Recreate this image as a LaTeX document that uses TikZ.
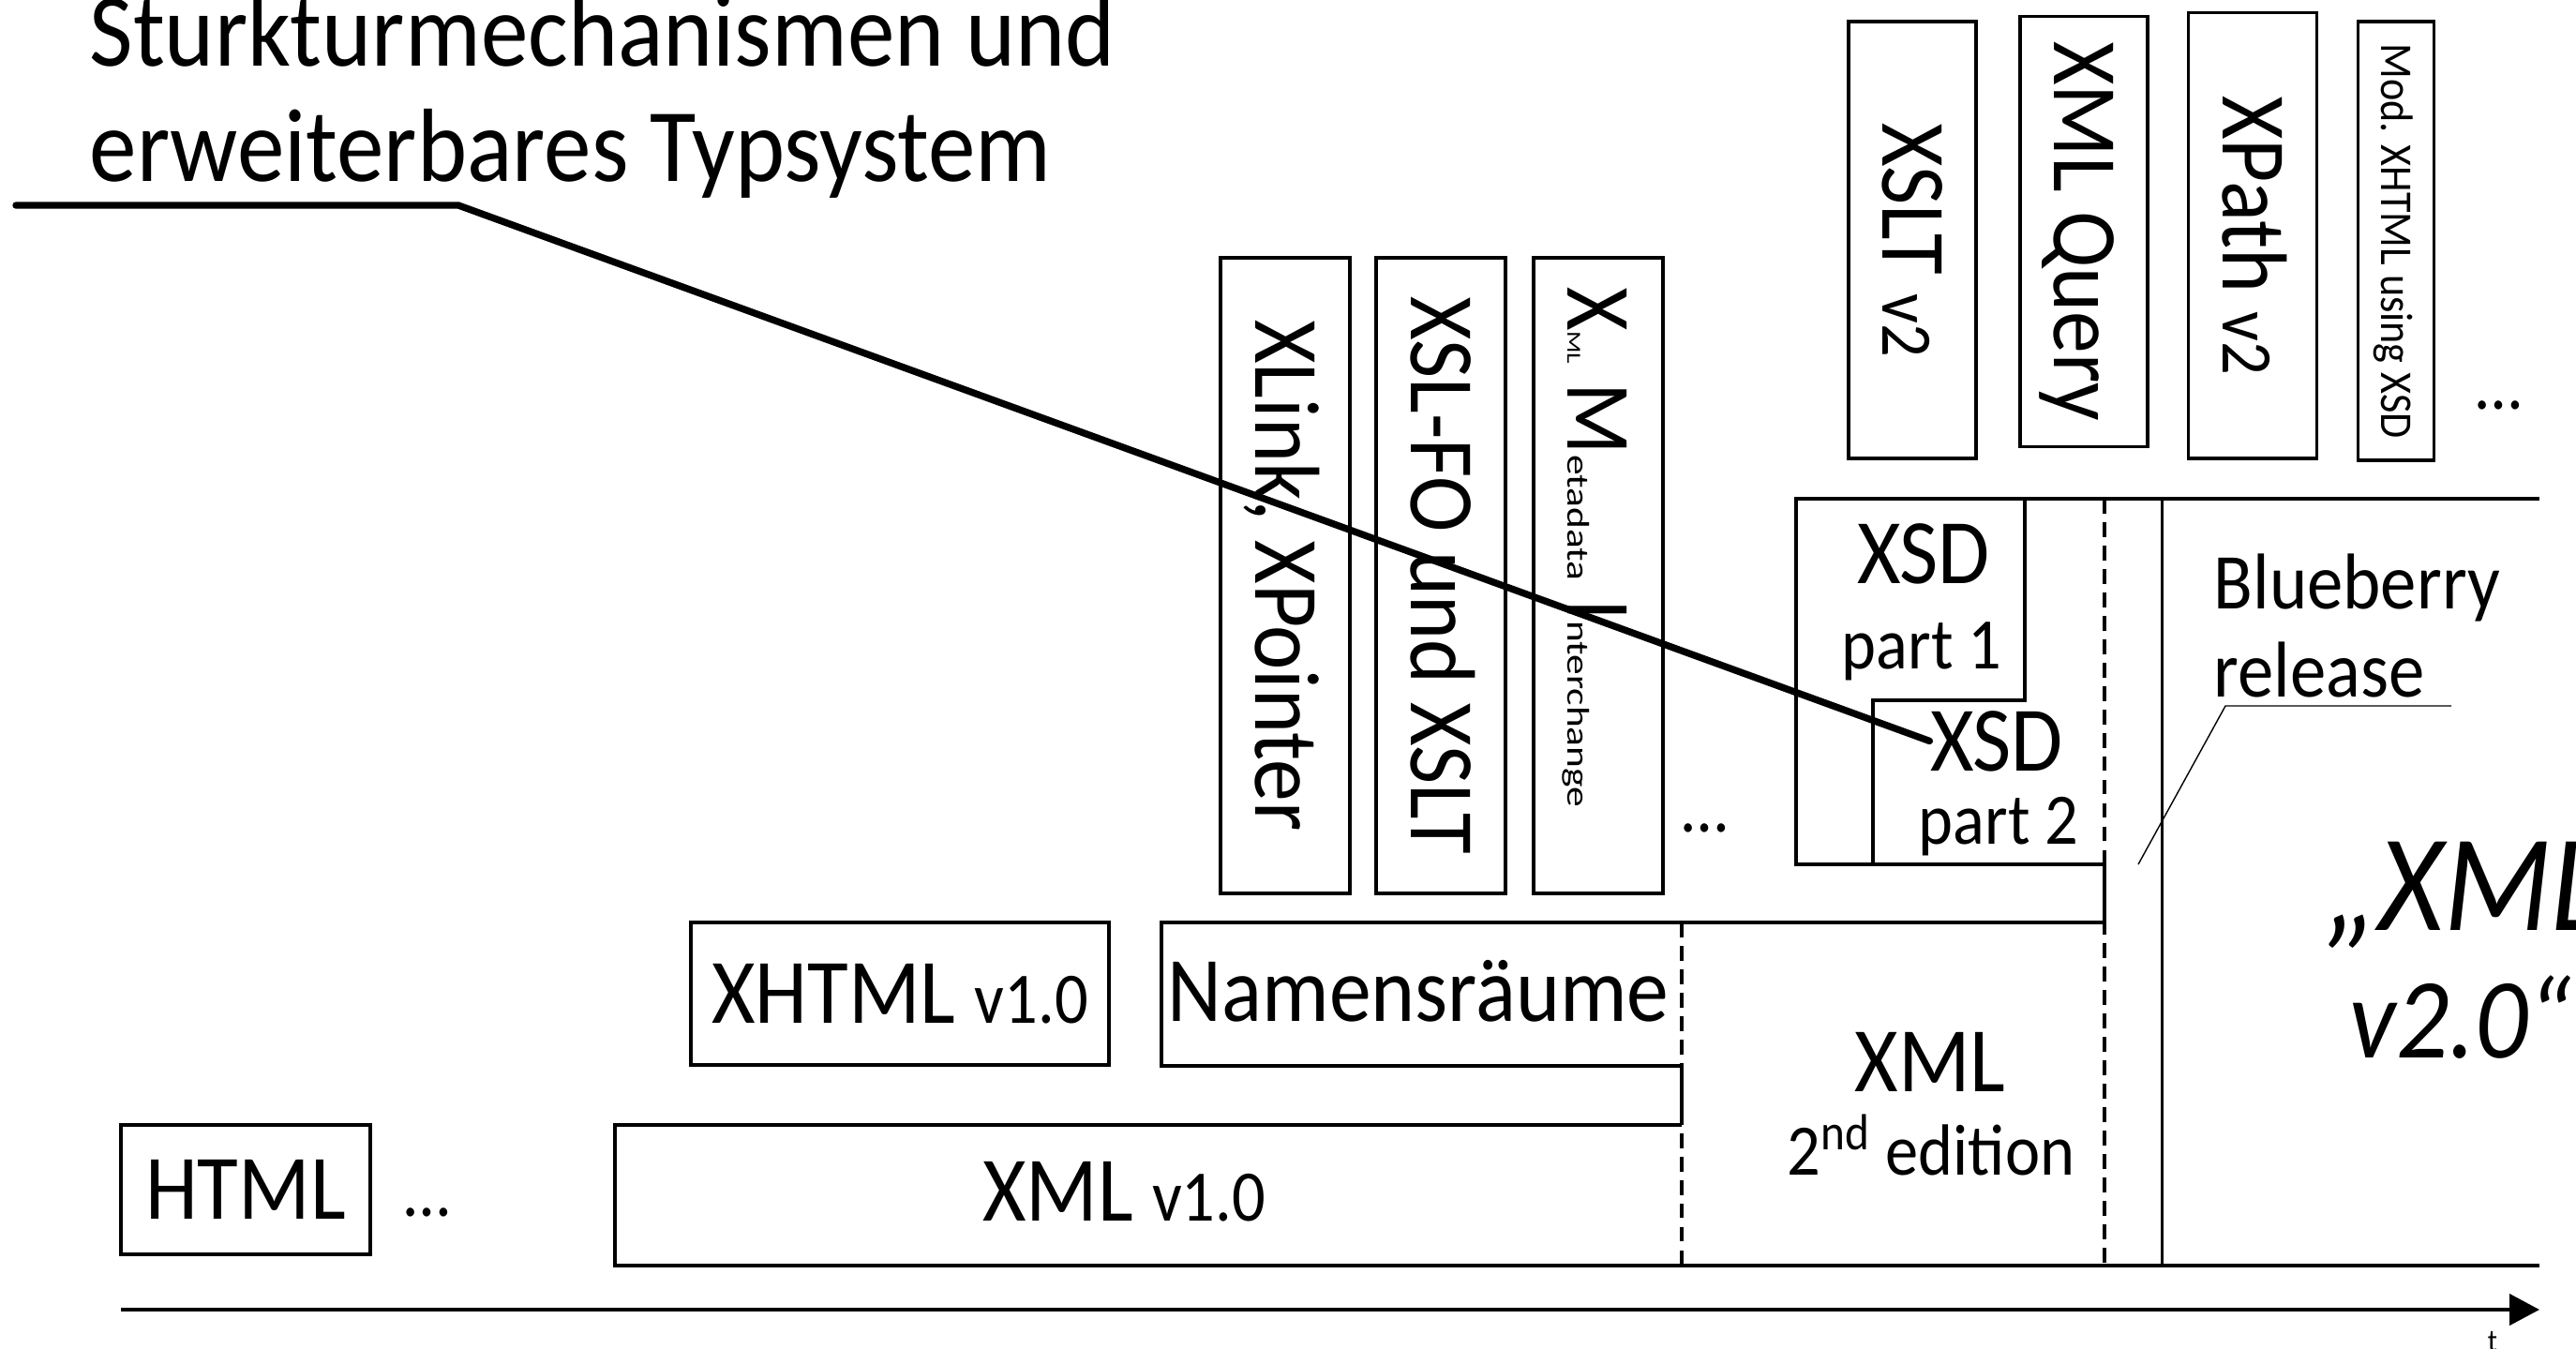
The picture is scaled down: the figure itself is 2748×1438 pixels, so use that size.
\documentclass[tikz,border=0pt]{standalone}
\usepackage{fontspec}
\setmainfont[FakeStretch=0.91]{Carlito}
\newfontfamily\widefont[FakeStretch=1.3]{Carlito}
\usetikzlibrary{arrows.meta}

\newcommand{\ver}[1]{{\fontsize{22}{24}\selectfont #1}}

\begin{document}
\begin{tikzpicture}[x=0.01cm, y=-0.01cm, >={Triangle[length=9.1pt,width=9.4pt]},
    font=\fontsize{28}{30}\selectfont, inner sep=0pt]
  \tikzstyle{box}=[draw, line width=1.05pt, text height=17.7pt, text depth=0pt]
  \tikzstyle{vert}=[box, rotate=-90]
  \tikzstyle{minor}=[font=\fontsize{22}{24}\selectfont]
  \tikzstyle{cutline}=[line width=0.95pt, dash pattern=on 4.5pt off 2.6pt]
  \useasboundingbox (0,0) rectangle (2748,1438);

  % title
  \node[anchor=base west, font=\fontsize{31.6}{35}\selectfont] (titlea) at (95,70) {Sturkturmechanismen und};
  \node[anchor=base west, font=\fontsize{31.6}{35}\selectfont] (titleb) at (95,193) {erweiterbares Typsystem};

  % bottom row
  \node[box, minimum width=2.66cm, minimum height=1.38cm] (html) at (262,1269) {HTML};
  \node[anchor=base, minor] (dotsa) at (456,1297) {…};
  \node[anchor=base] (xmlone) at (1199,1302) {XML \ver{v1.0}};
  \draw[box] (1794,1200) -- (656,1200) -- (656,1350) -- (2709,1350);

  \node[box, minimum width=4.46cm, minimum height=1.52cm] (xhtml) at (960,1060) {XHTML \ver{v1.0}};
  \node[anchor=base] (names) at (1513,1089) {Namensräume};
  \draw[box] (1794,1137) -- (1239,1137) -- (1239,984) -- (2245,984);

  \node[anchor=base] (xmltwo) at (2059,1164) {XML};
  \node[anchor=base, minor] (edition) at (2060,1253) {2\textsuperscript{nd} edition};
  \draw[cutline] (1794,984) -- (1794,1350);
  \draw[box] (1794,1137) -- (1794,1200);

  % standing boxes
  \node[vert, minimum width=6.78cm, minimum height=1.38cm] (xlink) at (1371,614) {XLink, XPointer};
  \node[vert, minimum width=6.78cm, minimum height=1.38cm] (xslfo) at (1537,614) {XSL-FO und XSLT};
  \node[vert, minimum width=6.78cm, minimum height=1.38cm] (xmlmi) at (1705,614) {};
  \node[rotate=-90, anchor=base west] (mitext) at (1672,306)
    {X{\widefont\fontsize{6}{7}\selectfont ML} M{\widefont\fontsize{9.5}{11}\selectfont etadata} I{\widefont\fontsize{9.5}{11}\selectfont nterchange}};
  \node[anchor=base, minor] (dotsb) at (1819,887) {…};

  % XSD
  \draw[box] (2245,922) -- (1916,922) -- (1916,532) -- (2709,532);
  \draw[box] (2160,532) -- (2160,747) -- (1998,747) -- (1998,922);
  \node[anchor=base] (xsda) at (2052,622) {XSD};
  \node[anchor=base, minor] (parta) at (2050,713) {part 1};
  \node[anchor=base] (xsdb) at (2130,822) {XSD};
  \node[anchor=base, minor] (partb) at (2132,900) {part 2};
  \draw[cutline] (2245,532) -- (2245,1350);
  \draw[box] (2245,922) -- (2245,984);
  \draw[line width=0.85pt] (2306,532) -- (2306,1348);

  \node[vert, minimum width=4.66cm, minimum height=1.36cm] (xslt) at (2040,256) {XSLT \ver{v2}};
  \node[vert, minimum width=4.59cm, minimum height=1.36cm] (xquery) at (2223,247) {XML Query};
  \node[vert, minimum width=4.75cm, minimum height=1.37cm] (xpath) at (2403,251) {XPath \ver{v2}};
  \node[vert, minimum width=4.68cm, minimum height=0.81cm, text height=8.8pt,
    font=\fontsize{13.8}{15}\selectfont] (modx) at (2556,257) {Mod. XHTML using XSD};
  \node[anchor=base, minor] (dotsc) at (2666,436) {…};

  % release
  \node[anchor=base west, font=\fontsize{24}{27}\selectfont] (blue) at (2361,649) {Blueberry};
  \node[anchor=base west, font=\fontsize{24}{27}\selectfont] (release) at (2361,743) {release};
  \coordinate (relend) at (2615,753);
  \coordinate (relknee) at (2374,753);
  \coordinate (relpoint) at (2281,922);
  \draw[line width=0.4pt] (relend) -- (relknee) -- (relpoint);

  \node[anchor=base west, font=\fontsize{41.8}{45}\selectfont\itshape] (nexta) at (2480,992) {„XML};
  \node[anchor=base west, font=\fontsize{34.7}{38}\selectfont\itshape] (nextb) at (2506,1128) {v2.0“};

  % time axis
  \coordinate (tstart) at (129,1397);
  \coordinate (tend) at (2709,1397);
  \draw[->, line width=1.15pt] (tstart) -- (tend);
  \node[anchor=base, font=\fontsize{9.5}{11}\selectfont] (tlabel) at (2659,1441) {t};

  % pointer from the title
  \coordinate (leadstart) at (17,219);
  \coordinate (leadknee) at (489,219);
  \draw[line width=2.1pt, line cap=round] (leadstart) -- (leadknee) -- (xsdb.west);
\end{tikzpicture}
\end{document}
